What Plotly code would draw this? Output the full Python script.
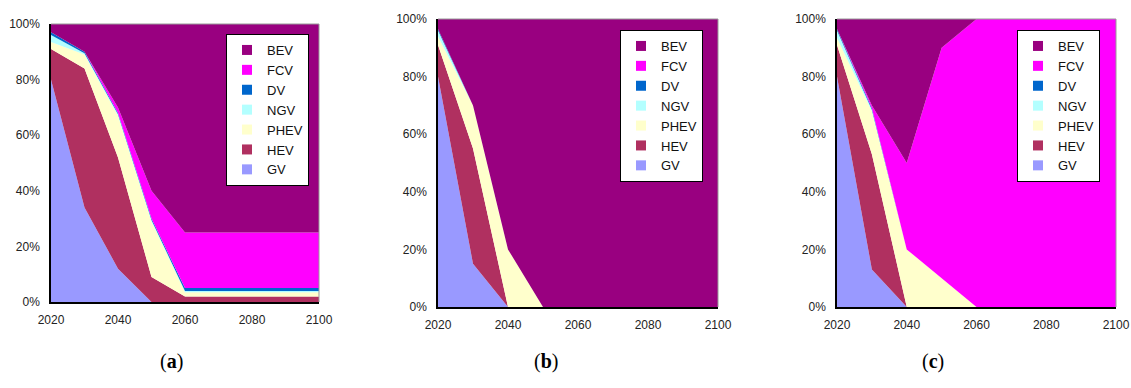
import plotly.graph_objects as go

years = [2020, 2030, 2040, 2050, 2060, 2070, 2080, 2090, 2100]
series_names = ["GV", "HEV", "PHEV", "NGV", "DV", "FCV", "BEV"]
colors = {"GV": "#9999FF", "HEV": "#B03060", "PHEV": "#FFFFCC", "NGV": "#B3FFFF",
          "DV": "#0066CC", "FCV": "#FF00FF", "BEV": "#990080"}
y_ticks = [0, 20, 40, 60, 80, 100]
y_ticklabels = ["0%", "20%", "40%", "60%", "80%", "100%"]
x_ticks = [2020, 2040, 2060, 2080, 2100]

# Panel (a) shares (%)
a_GV = [80, 34, 12, 0, 0, 0, 0, 0, 0]
a_HEV = [11, 50, 40, 9, 2, 2, 2, 2, 2]
a_PHEV = [2.5, 5, 15, 20, 1.5, 1.5, 1.5, 1.5, 1.5]
a_NGV = [2.5, 0.5, 0.5, 0.5, 0.5, 0.5, 0.5, 0.5, 0.5]
a_DV = [1, 0.5, 0.5, 0.5, 1, 1, 1, 1, 1]
a_FCV = [0, 0, 2, 10, 20, 20, 20, 20, 20]
a_BEV = [3, 10, 30, 60, 75, 75, 75, 75, 75]

# Panel (b) shares (%)
b_GV = [80, 15, 0, 0, 0, 0, 0, 0, 0]
b_HEV = [11, 40, 0, 0, 0, 0, 0, 0, 0]
b_PHEV = [3, 15, 20, 0, 0, 0, 0, 0, 0]
b_NGV = [2, 0, 0, 0, 0, 0, 0, 0, 0]
b_DV = [0.5, 0, 0, 0, 0, 0, 0, 0, 0]
b_FCV = [0, 0, 0, 0, 0, 0, 0, 0, 0]
b_BEV = [3.5, 30, 80, 100, 100, 100, 100, 100, 100]

# Panel (c) shares (%)
c_GV = [80, 13, 0, 0, 0, 0, 0, 0, 0]
c_HEV = [11, 40, 0, 0, 0, 0, 0, 0, 0]
c_PHEV = [2.5, 15, 20, 10, 0, 0, 0, 0, 0]
c_NGV = [2.5, 0.5, 0, 0, 0, 0, 0, 0, 0]
c_DV = [0.5, 0.5, 0, 0, 0, 0, 0, 0, 0]
c_FCV = [0, 1, 30, 80, 100, 100, 100, 100, 100]
c_BEV = [3.5, 30, 50, 10, 0, 0, 0, 0, 0]

panels = [
    ("a", [a_GV, a_HEV, a_PHEV, a_NGV, a_DV, a_FCV, a_BEV]),
    ("b", [b_GV, b_HEV, b_PHEV, b_NGV, b_DV, b_FCV, b_BEV]),
    ("c", [c_GV, c_HEV, c_PHEV, c_NGV, c_DV, c_FCV, c_BEV]),
]

W, H = 1131, 388
boxes = [(51, 319, 24, 302), (438, 718, 19, 307), (837, 1116, 19, 307)]
legend_pos = [(309, 34), (703, 30), (1100, 30)]
caption_x = [158, 546, 946]

fig = go.Figure()
tickfont = dict(family="Liberation Sans, Arial, sans-serif", size=12, color="#222222")

for i, (label, data) in enumerate(panels):
    ax = "" if i == 0 else str(i + 1)
    leg = "legend" if i == 0 else f"legend{i + 1}"
    for name, vals in zip(series_names, data):
        fig.add_trace(go.Scatter(
            x=years, y=vals, name=name, mode="lines",
            line=dict(width=0, color=colors[name]),
            fillcolor=colors[name], stackgroup=label,
            xaxis="x" + ax, yaxis="y" + ax, showlegend=False,
            hoverinfo="x+y+name",
        ))
    for name in series_names:
        fig.add_trace(go.Scatter(
            x=[None], y=[None], name=name, mode="markers",
            marker=dict(symbol="square", size=10, color=colors[name]),
            xaxis="x" + ax, yaxis="y" + ax, legend=leg, showlegend=True,
        ))
    x0, x1, yt, yb = boxes[i]
    fig.layout["xaxis" + ax] = dict(
        domain=[x0 / W, x1 / W], range=[2020, 2100], tickmode="array", tickvals=x_ticks,
        showgrid=False, zeroline=False, showline=True, linecolor="black", linewidth=1.5,
        tickfont=tickfont, anchor="y" + ax, ticks="", fixedrange=True, ticklabelstandoff=6,
        automargin=False,
    )
    fig.layout["yaxis" + ax] = dict(
        domain=[1 - yb / H, 1 - yt / H], range=[0, 100], tickmode="array",
        tickvals=y_ticks, ticktext=y_ticklabels,
        showgrid=False, zeroline=False, showline=True, linecolor="black",
        linewidth=1.5, tickfont=tickfont, anchor="x" + ax, ticks="", fixedrange=True,
        ticklabelstandoff=7, automargin=False,
    )
    lx, ly = legend_pos[i]
    fig.layout[leg] = dict(
        x=lx / W, y=1 - ly / H, xanchor="right", yanchor="top",
        bgcolor="white", bordercolor="black", borderwidth=1,
        traceorder="reversed", itemwidth=30,
        font=dict(family="Liberation Sans, Arial, sans-serif", size=13, color="#111111"),
        tracegroupgap=0,
    )
    fig.add_shape(type="line", xref="paper", yref="paper", x0=x0 / W, x1=x1 / W,
                  y0=1 - yt / H, y1=1 - yt / H, line=dict(color="#999999", width=1))
    fig.add_shape(type="line", xref="paper", yref="paper", x0=x1 / W, x1=x1 / W,
                  y0=1 - yb / H, y1=1 - yt / H, line=dict(color="#999999", width=1))
    fig.add_annotation(
        x=caption_x[i] / W, y=1 - 375 / H, xref="paper", yref="paper",
        text=f"(<b>{label}</b>)", showarrow=False,
        font=dict(family="Liberation Serif, Times New Roman, serif", size=20, color="black"),
    )

fig.update_layout(
    width=W, height=H, margin=dict(l=0, r=0, t=0, b=0, autoexpand=False),
    paper_bgcolor="white", plot_bgcolor="white", showlegend=True,
)
fig.write_html(
    "out.html",
    config={"displayModeBar": False},
    post_script="document.body.style.margin='0';document.body.style.overflow='hidden';",
)
